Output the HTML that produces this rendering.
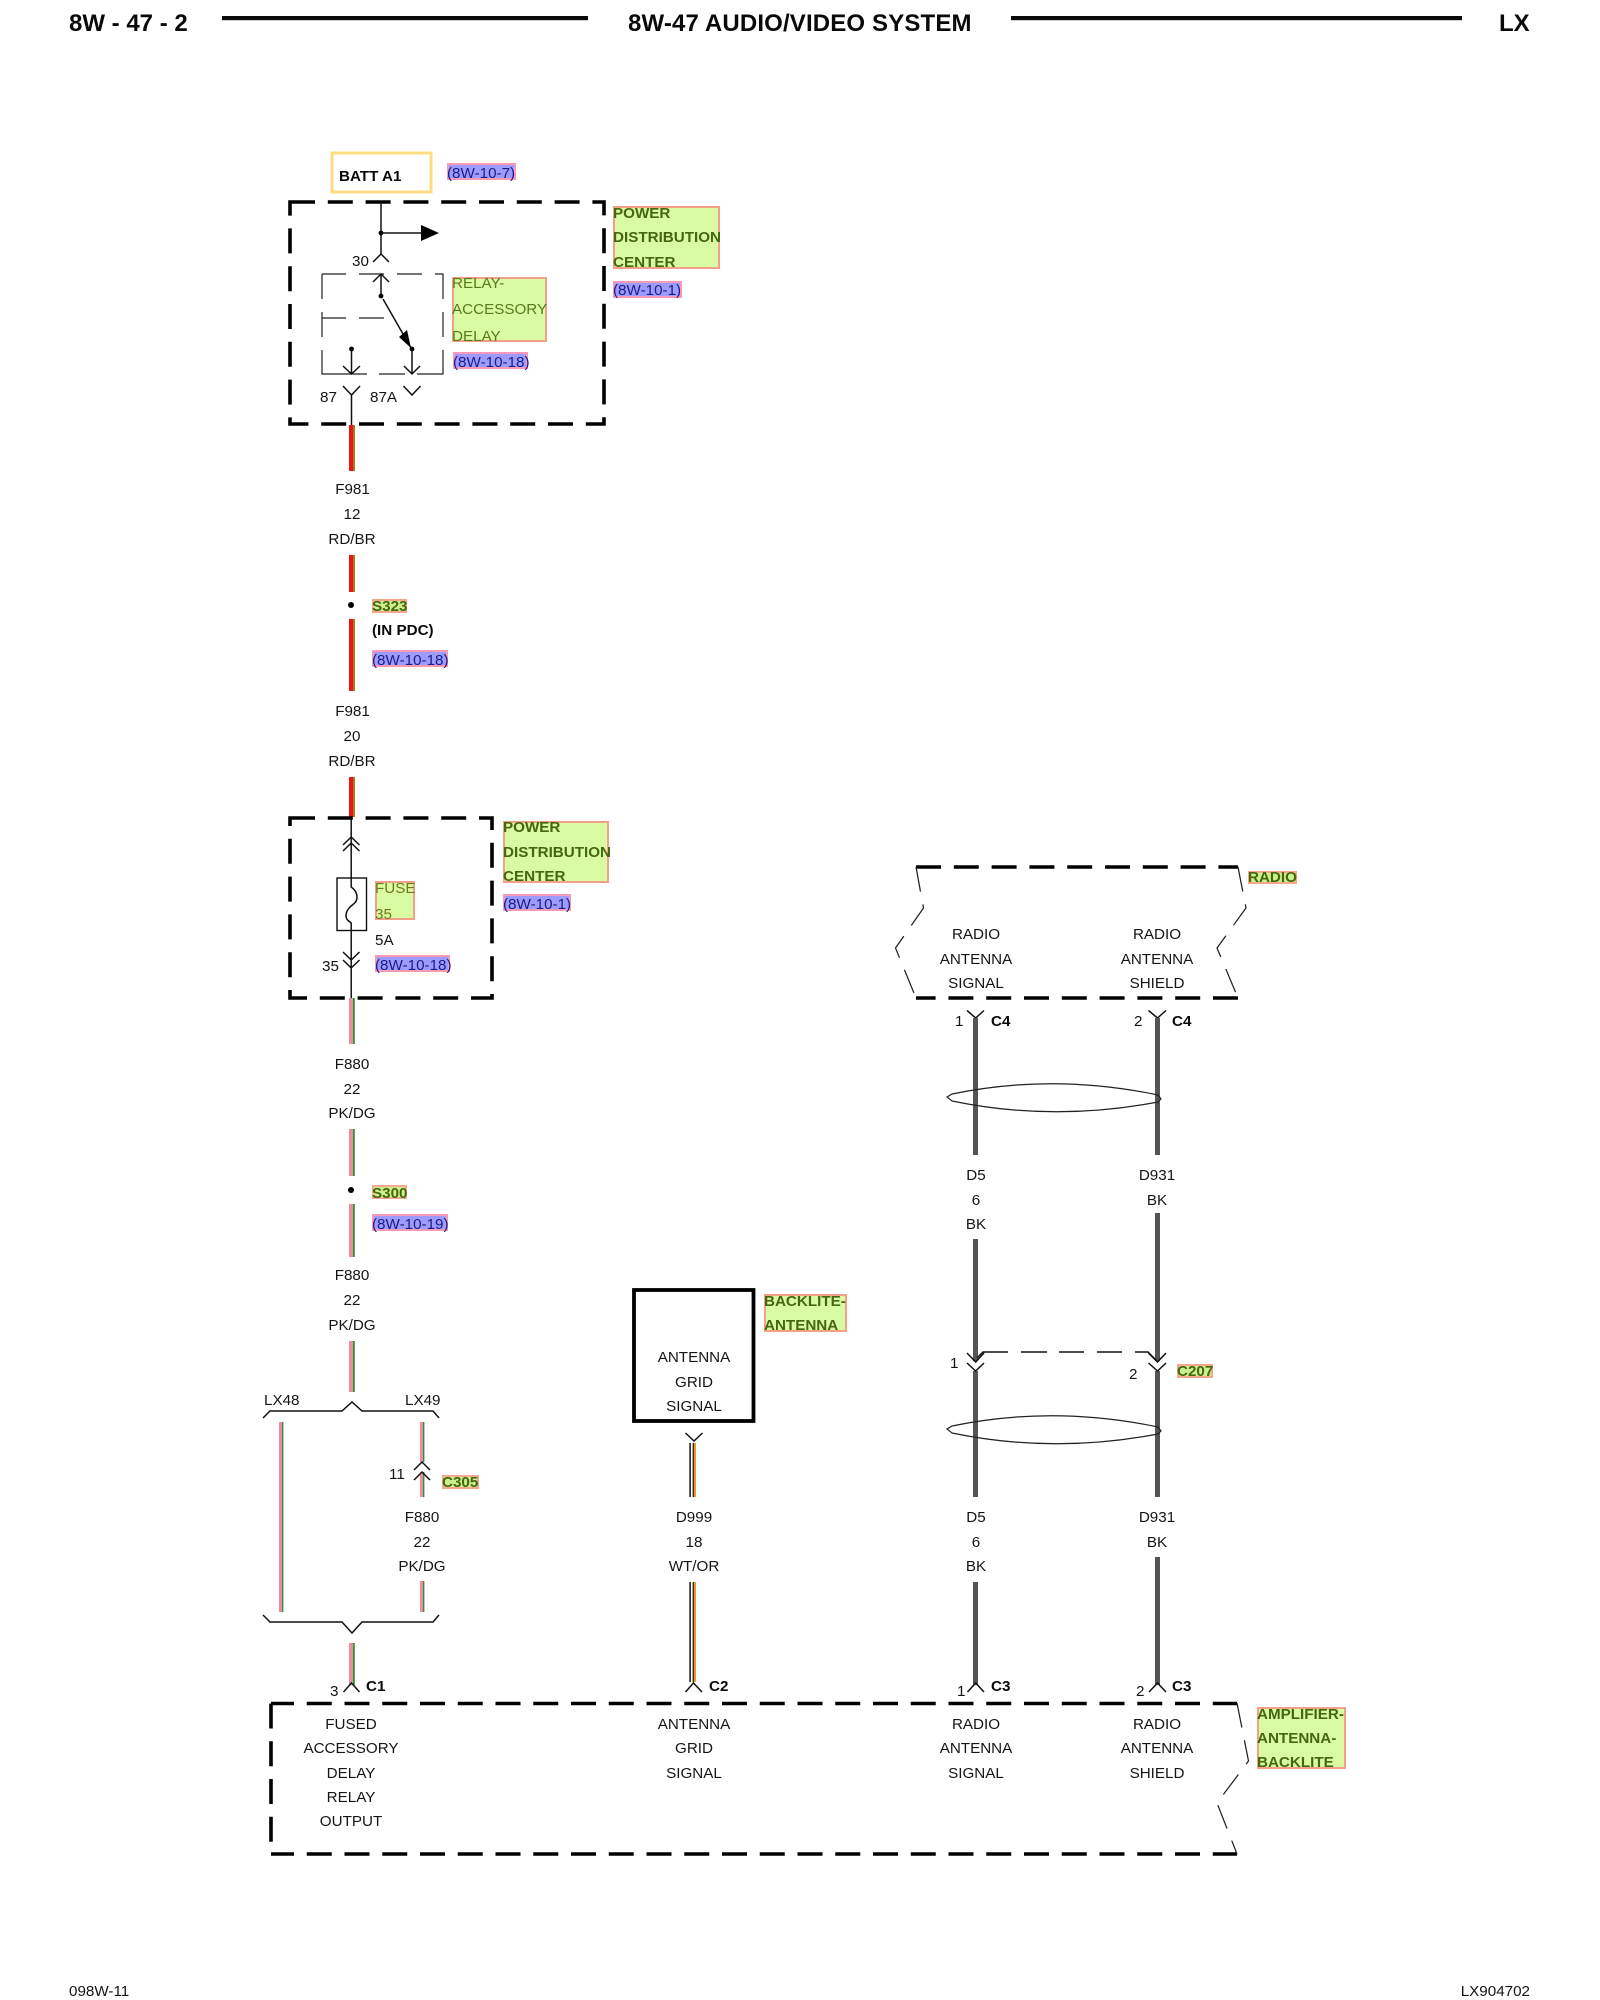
<!DOCTYPE html>
<html>
<head>
<meta charset="utf-8">
<title>8W-47 Audio/Video System</title>
<style>
html,body{margin:0;padding:0;background:#fff;width:1600px;height:2000px;overflow:hidden}
svg{display:block}
text{font-family:"Liberation Sans",sans-serif;font-size:15.2px;fill:#151515}
.m{text-anchor:middle}
.b{font-weight:bold;fill:#0a0a0a}
.h{font-weight:bold;font-size:24px;fill:#0a0a0a}
.ol{font-weight:bold;fill:#46660f}
.lt{fill:#567a1c}
.fs{fill:#72781f}
.ref{fill:#1c1c86}
.gb{fill:#d9fba2;stroke:#f2a088;stroke-width:2}
.bb{fill:#9c9cff;stroke:#f79ab8;stroke-width:2}
.gs{fill:#cdf08e;stroke:#f4a88c;stroke-width:2}
.thin{fill:none;stroke:#111;stroke-width:1.5}
.fine{fill:none;stroke:#222;stroke-width:1.2}
.dash{fill:none;stroke:#000;stroke-width:3.6;stroke-dasharray:25 12.8}
.tdash{fill:none;stroke:#222;stroke-width:1.25;stroke-dasharray:25 13}
</style>
</head>
<body>
<svg width="1600" height="2000" viewBox="0 0 1600 2000" xmlns="http://www.w3.org/2000/svg">
<rect width="1600" height="2000" fill="#fff"/>

<!-- header -->
<text class="h" x="69" y="31">8W - 47 - 2</text>
<rect x="222" y="16" width="366" height="4.2" fill="#0a0a0a"/>
<text class="h" x="628" y="31" style="letter-spacing:.15px">8W-47 AUDIO/VIDEO SYSTEM</text>
<rect x="1011" y="16" width="451" height="4.2" fill="#0a0a0a"/>
<text class="h" x="1499" y="31">LX</text>

<!-- footer -->
<text x="69" y="1996">098W-11</text>
<text x="1530" y="1996" text-anchor="end">LX904702</text>

<!-- BATT A1 -->
<rect x="332" y="153" width="99" height="39" fill="#fff" stroke="#ffdc82" stroke-width="3"/>
<text class="b" x="339" y="181">BATT A1</text>
<rect class="bb" x="448" y="164" width="67" height="15"/>
<text class="ref" x="447" y="178">(8W-10-7)</text>

<!-- PDC box 1 -->
<path class="dash" d="M290 202H604V424H290Z"/>
<rect class="gb" x="614" y="207" width="105" height="61"/>
<text class="ol" x="613" y="218">POWER</text>
<text class="ol" x="613" y="242">DISTRIBUTION</text>
<text class="ol" x="613" y="267">CENTER</text>
<rect class="bb" x="614" y="282" width="67" height="15"/>
<text class="ref" x="613" y="295">(8W-10-1)</text>

<!-- relay -->
<path class="thin" d="M381 202V254"/>
<circle cx="381" cy="233" r="2.4" fill="#000"/>
<path class="thin" d="M381 233H422"/>
<polygon points="421,225 439,233 421,241" fill="#000"/>
<text x="352" y="266">30</text>
<path class="thin" d="M373 262L381 254L389 262"/>
<path class="fine" d="M322 274H346M359 274H384M397 274H422M435 274H443V299M443 312V337M443 350V374H417M405 374H379M367 374H322V350M322 337V312M322 299V274"/>
<path class="thin" d="M373 282L381 274L389 282M381 274V296"/>
<circle cx="381" cy="296" r="2.4" fill="#000"/>
<path class="thin" d="M383 299L411 348"/>
<polygon points="411,348 399,337 407,330" fill="#000"/>
<circle cx="412" cy="349" r="2.4" fill="#000"/>
<circle cx="351.5" cy="349" r="2.4" fill="#000"/>
<path class="fine" d="M322 318H346M359 318H384"/>
<path class="thin" d="M351.5 349V374M343 366L351.5 374L360 366"/>
<path class="thin" d="M412 349V374M404 366L412 374L420 366"/>
<path class="thin" d="M343 386L351.5 395L360 386M351.5 395V425"/>
<path class="thin" d="M403.5 386L412 395L420.5 386"/>
<text x="320" y="402">87</text>
<text x="370" y="402">87A</text>
<rect class="gb" x="453" y="278" width="93" height="63"/>
<text class="lt" x="452" y="288">RELAY-</text>
<text class="lt" x="452" y="314">ACCESSORY</text>
<text class="lt" x="452" y="341">DELAY</text>
<rect class="bb" x="454" y="353" width="73" height="15"/>
<text class="ref" x="453" y="367">(8W-10-18)</text>

<!-- F981 wires -->
<g>
<rect x="349" y="425" width="4" height="46" fill="#ea1410"/><rect x="353" y="425" width="2" height="46" fill="#a87a20"/>
<rect x="349" y="555" width="4" height="37" fill="#ea1410"/><rect x="353" y="555" width="2" height="37" fill="#a87a20"/>
<rect x="349" y="619" width="4" height="72" fill="#ea1410"/><rect x="353" y="619" width="2" height="72" fill="#a87a20"/>
<rect x="349" y="777" width="4" height="40" fill="#ea1410"/><rect x="353" y="777" width="2" height="40" fill="#a87a20"/>
</g>
<text class="m" x="352.5" y="494">F981</text>
<text class="m" x="352" y="519">12</text>
<text class="m" x="352" y="544">RD/BR</text>
<circle cx="351" cy="605" r="3" fill="#000"/>
<rect class="gs" x="373" y="600" width="33" height="12"/>
<text class="ol" x="372" y="611">S323</text>
<text class="b" x="372" y="635">(IN PDC)</text>
<rect class="bb" x="373" y="651" width="74" height="15"/>
<text class="ref" x="372" y="665">(8W-10-18)</text>
<text class="m" x="352.5" y="716">F981</text>
<text class="m" x="352" y="741">20</text>
<text class="m" x="352" y="766">RD/BR</text>

<!-- PDC box 2 -->
<path class="dash" d="M290 818H492V998H290Z"/>
<path class="thin" d="M351.2 818V998"/>
<path class="thin" d="M343 845L351.2 837L359.5 845M343 851L351.2 843L359.5 851"/>
<rect x="337" y="878" width="29.5" height="52.5" fill="#fff" stroke="#111" stroke-width="1.4"/>
<path class="thin" d="M351.2 878V887C354 889 357 892 357 897C357 903 353 904 350 907C347 910 346 913 346 916C346 920 349 921 351.2 923V930"/>
<path class="thin" d="M343 952L351.2 960L359.5 952M343 960L351.2 968L359.5 960"/>
<text x="322" y="971">35</text>
<rect class="gb" x="376" y="882" width="38" height="37"/>
<text class="fs" x="375" y="893">FUSE</text>
<text class="fs" x="375" y="919">35</text>
<text x="375" y="945">5A</text>
<rect class="bb" x="376" y="956" width="73" height="15"/>
<text class="ref" x="375" y="970">(8W-10-18)</text>
<rect class="gb" x="504" y="822" width="104" height="60"/>
<text class="ol" x="503" y="832">POWER</text>
<text class="ol" x="503" y="857">DISTRIBUTION</text>
<text class="ol" x="503" y="881">CENTER</text>
<rect class="bb" x="504" y="895" width="66" height="15"/>
<text class="ref" x="503" y="909">(8W-10-1)</text>

<!-- F880 wires -->
<g>
<rect x="349" y="998" width="4" height="46" fill="#f28ba0"/><rect x="353" y="998" width="1.8" height="46" fill="#1f9a3a"/>
<rect x="349" y="1129" width="4" height="47" fill="#f28ba0"/><rect x="353" y="1129" width="1.8" height="47" fill="#1f9a3a"/>
<rect x="349" y="1204" width="4" height="53" fill="#f28ba0"/><rect x="353" y="1204" width="1.8" height="53" fill="#1f9a3a"/>
<rect x="349" y="1341" width="4" height="51" fill="#f28ba0"/><rect x="353" y="1341" width="1.8" height="51" fill="#1f9a3a"/>
<rect x="349" y="1643" width="4" height="42" fill="#f28ba0"/><rect x="353" y="1643" width="1.8" height="42" fill="#1f9a3a"/>
<rect x="279" y="1422" width="3" height="190" fill="#f28ba0"/><rect x="282" y="1422" width="1.4" height="190" fill="#2f8f3f"/>
<rect x="420" y="1422" width="3" height="40" fill="#f28ba0"/><rect x="423" y="1422" width="1.4" height="40" fill="#2f8f3f"/>
<rect x="420" y="1472" width="3" height="25" fill="#f28ba0"/><rect x="423" y="1472" width="1.4" height="25" fill="#2f8f3f"/>
<rect x="420" y="1581" width="3" height="31" fill="#f28ba0"/><rect x="423" y="1581" width="1.4" height="31" fill="#2f8f3f"/>
</g>
<text class="m" x="352" y="1069">F880</text>
<text class="m" x="352" y="1094">22</text>
<text class="m" x="352" y="1118">PK/DG</text>
<circle cx="351" cy="1190" r="3" fill="#000"/>
<rect class="gs" x="373" y="1186" width="33" height="12"/>
<text class="ol" x="372" y="1198">S300</text>
<rect class="bb" x="373" y="1215" width="74" height="15"/>
<text class="ref" x="372" y="1229">(8W-10-19)</text>
<text class="m" x="352" y="1280">F880</text>
<text class="m" x="352" y="1305">22</text>
<text class="m" x="352" y="1330">PK/DG</text>

<!-- splice brackets -->
<path class="thin" d="M263 1418L270 1411H342L352 1402L362 1411H433L439 1418"/>
<text x="264" y="1405">LX48</text>
<text x="405" y="1405">LX49</text>
<path class="thin" d="M263 1615L270 1622H342L352 1633L362 1622H433L439 1615"/>
<path class="thin" d="M414 1470L422 1462L430 1470M414 1480L422 1472L430 1480"/>
<text x="389" y="1479">11</text>
<rect class="gs" x="443" y="1476" width="35" height="12"/>
<text class="ol" x="442" y="1487">C305</text>
<text class="m" x="422" y="1522">F880</text>
<text class="m" x="422" y="1547">22</text>
<text class="m" x="422" y="1571">PK/DG</text>
<path class="thin" d="M343.5 1692L351.5 1683L359.5 1692"/>
<text x="330" y="1696">3</text>
<text class="b" x="366" y="1691">C1</text>

<!-- antenna grid -->
<rect x="634" y="1290" width="119.5" height="131" fill="#fff" stroke="#000" stroke-width="3.8"/>
<text class="m" x="694" y="1362">ANTENNA</text>
<text class="m" x="694" y="1387">GRID</text>
<text class="m" x="694" y="1411">SIGNAL</text>
<rect class="gb" x="765" y="1295" width="81" height="36"/>
<text class="ol" x="764" y="1306">BACKLITE-</text>
<text class="ol" x="764" y="1330">ANTENNA</text>
<path class="thin" d="M685.5 1433L694 1441L702.5 1433"/>
<g>
<rect x="689.3" y="1443" width="1.6" height="54" fill="#222"/><rect x="692.6" y="1443" width="1.4" height="54" fill="#3a2a10"/><rect x="694" y="1443" width="2" height="54" fill="#ee9a2c"/>
<rect x="689.3" y="1582" width="1.6" height="100" fill="#222"/><rect x="692.6" y="1582" width="1.4" height="100" fill="#3a2a10"/><rect x="694" y="1582" width="2" height="100" fill="#ee9a2c"/>
</g>
<text class="m" x="694" y="1522">D999</text>
<text class="m" x="694" y="1547">18</text>
<text class="m" x="694" y="1571">WT/OR</text>
<path class="thin" d="M685.5 1692L693.5 1683L702 1692"/>
<text class="b" x="709" y="1691">C2</text>

<!-- radio box -->
<path class="dash" d="M916 867H1238"/>
<path class="dash" d="M1238 998H916"/>
<path class="tdash" d="M916 867L923.5 908L895.5 948L916 998"/>
<path class="tdash" d="M1238 867L1246 908L1217 948L1238 998"/>
<rect class="gs" x="1249" y="872" width="47" height="11"/>
<text class="ol" x="1248" y="882">RADIO</text>
<text class="m" x="976" y="939">RADIO</text>
<text class="m" x="976" y="964">ANTENNA</text>
<text class="m" x="976" y="988">SIGNAL</text>
<text class="m" x="1157" y="939">RADIO</text>
<text class="m" x="1157" y="964">ANTENNA</text>
<text class="m" x="1157" y="988">SHIELD</text>
<path class="thin" d="M967 1010.5L975.7 1018L984 1010.5"/>
<path class="thin" d="M1148.5 1010.5L1157.5 1018L1166 1010.5"/>
<text x="955" y="1026">1</text>
<text x="1134" y="1026">2</text>
<text class="b" x="991" y="1026">C4</text>
<text class="b" x="1172" y="1026">C4</text>

<!-- shielded wires -->
<g fill="#555">
<rect x="973" y="1018" width="5" height="137"/>
<rect x="973" y="1239" width="5" height="122"/>
<rect x="973" y="1371" width="5" height="126"/>
<rect x="973" y="1582" width="5" height="103"/>
<rect x="1155" y="1018" width="5" height="137"/>
<rect x="1155" y="1213" width="5" height="148"/>
<rect x="1155" y="1371" width="5" height="126"/>
<rect x="1155" y="1557" width="5" height="128"/>
</g>
<path class="fine" d="M947 1097L952 1094Q1053 1073 1158 1095L1161 1099L1158 1102Q1053 1122 952 1101Z"/>
<path class="fine" d="M947 1429L952 1426Q1053 1405 1158 1427L1161 1431L1158 1434Q1053 1454 952 1433Z"/>
<text class="m" x="976" y="1180">D5</text>
<text class="m" x="976" y="1205">6</text>
<text class="m" x="976" y="1229">BK</text>
<text class="m" x="1157" y="1180">D931</text>
<text class="m" x="1157" y="1205">BK</text>

<!-- C207 -->
<path class="thin" d="M967 1353L975.7 1362L984 1353M967 1363L975.7 1371L984 1363"/>
<path class="thin" d="M1148.5 1353L1157.5 1362L1166 1353M1148.5 1363L1157.5 1371L1166 1363"/>
<path class="thin" d="M977 1358L983 1352H1008M1021 1352H1047M1059 1352H1084M1097 1352H1122M1135 1352H1148L1156 1360"/>
<text x="950" y="1368">1</text>
<text x="1129" y="1379">2</text>
<rect class="gs" x="1178" y="1365" width="34" height="12"/>
<text class="ol" x="1177" y="1376">C207</text>

<text class="m" x="976" y="1522">D5</text>
<text class="m" x="976" y="1547">6</text>
<text class="m" x="976" y="1571">BK</text>
<text class="m" x="1157" y="1522">D931</text>
<text class="m" x="1157" y="1547">BK</text>

<path class="thin" d="M967.5 1692L975.7 1683L984 1692"/>
<path class="thin" d="M1149 1692L1157.5 1683L1166 1692"/>
<text x="957" y="1696">1</text>
<text x="1136" y="1696">2</text>
<text class="b" x="991" y="1691">C3</text>
<text class="b" x="1172" y="1691">C3</text>

<!-- amplifier box -->
<path class="dash" stroke-dashoffset="2" style="stroke-dasharray:25 12.75" d="M271 1703.5H1237"/>
<path class="dash" stroke-dashoffset="2" style="stroke-dasharray:25 12.75" d="M271 1854H1237"/>
<path class="dash" style="stroke-dasharray:25 12.75" d="M271 1703.5V1842"/>
<path class="tdash" d="M1237 1703L1248.5 1761L1217 1803L1237 1854"/>
<rect class="gb" x="1258" y="1708" width="87" height="60"/>
<text class="ol" x="1257" y="1719">AMPLIFIER-</text>
<text class="ol" x="1257" y="1743">ANTENNA-</text>
<text class="ol" x="1257" y="1767">BACKLITE</text>
<text class="m" x="351" y="1729">FUSED</text>
<text class="m" x="351" y="1753">ACCESSORY</text>
<text class="m" x="351" y="1778">DELAY</text>
<text class="m" x="351" y="1802">RELAY</text>
<text class="m" x="351" y="1826">OUTPUT</text>
<text class="m" x="694" y="1729">ANTENNA</text>
<text class="m" x="694" y="1753">GRID</text>
<text class="m" x="694" y="1778">SIGNAL</text>
<text class="m" x="976" y="1729">RADIO</text>
<text class="m" x="976" y="1753">ANTENNA</text>
<text class="m" x="976" y="1778">SIGNAL</text>
<text class="m" x="1157" y="1729">RADIO</text>
<text class="m" x="1157" y="1753">ANTENNA</text>
<text class="m" x="1157" y="1778">SHIELD</text>
</svg>
</body>
</html>
